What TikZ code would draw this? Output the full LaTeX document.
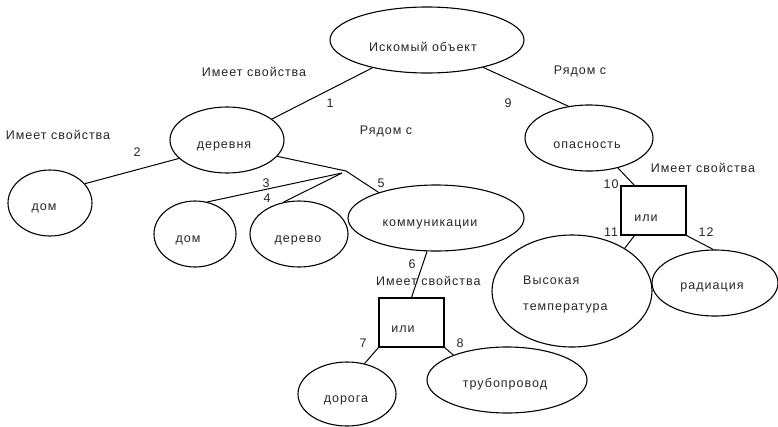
\documentclass[tikz,border=0pt]{standalone}
\usepackage{fontspec}
\setmainfont{Liberation Sans}[LetterSpace=8]
\usetikzlibrary{shapes.geometric,calc}
\begin{document}
\begin{tikzpicture}[x=1pt,y=-1pt,
  ell/.style={draw, ellipse, inner sep=0pt, line width=1.1pt},
  boxn/.style={draw, rectangle, inner sep=0pt, line width=1.1pt},
  txt/.style={font=\fontsize{12.5}{14}\selectfont, text=black!85, inner sep=0pt},
  con/.style={line width=1pt}]
\useasboundingbox[fill=white] (0,0) rectangle (778,426);

% shapes
\node[ell, minimum width=194pt, minimum height=66pt] (I) at (427,40) {};
\node[ell, minimum width=114pt, minimum height=66pt] (D) at (227,140) {};
\node[ell, minimum width=84pt, minimum height=66pt] (H1) at (50,203) {};
\node[ell, minimum width=82pt, minimum height=66pt] (H2) at (195,234) {};
\node[ell, minimum width=98pt, minimum height=66pt] (T) at (299,234) {};
\node[ell, minimum width=176pt, minimum height=66pt] (K) at (436,218) {};
\node[ell, minimum width=128pt, minimum height=66pt] (O) at (589,138) {};
\node[ell, minimum width=160pt, minimum height=112pt] (V) at (572,291) {};
\node[ell, minimum width=126pt, minimum height=66pt] (R) at (715,283) {};
\node[ell, minimum width=160pt, minimum height=66pt] (P) at (507,380) {};
\node[ell, minimum width=98pt, minimum height=64pt] (G) at (347,394) {};
\node[boxn, minimum width=65pt, minimum height=49pt] (B1) at (411.5,322.5) {};
\node[boxn, minimum width=65pt, minimum height=49pt] (B2) at (653.5,210.5) {};
\coordinate (J) at (346,171);
\coordinate (J2) at (342,173);

% texts in shapes
\node[txt] (tI) at (423,47) {Искомый объект};
\node[txt] (tD) at (224,146) {деревня};
\node[txt] (tH1) at (44,208) {дом};
\node[txt] (tH2) at (188,240) {дом};
\node[txt] (tT) at (298,240) {дерево};
\node[txt] (tK) at (430,224) {коммуникации};
\node[txt] (tO) at (587,145) {опасность};
\node[txt, anchor=west] (tV1) at (523,280) {Высокая};
\node[txt, anchor=west] (tV2) at (523,308) {температура};
\node[txt] (tR) at (712,287) {радиация};
\node[txt] (tP) at (505,384) {трубопровод};
\node[txt] (tG) at (346,400) {дорога};
\node[txt] (tB1) at (403,329) {или};
\node[txt] (tB2) at (646,218) {или};

% relation labels
\node[txt] (r1) at (254,72) {Имеет свойства};
\node[txt] (r2) at (58,135) {Имеет свойства};
\node[txt] (r3) at (386,131) {Рядом с};
\node[txt] (r4) at (580,71) {Рядом с};
\node[txt] (r5) at (703,168) {Имеет свойства};
\node[txt, anchor=west] (r6) at (376,281) {Имеет свойства};

% numbers
\node[txt] (n1) at (330,103) {1};
\node[txt] (n2) at (137,152) {2};
\node[txt] (n3) at (266,183) {3};
\node[txt] (n4) at (267,198) {4};
\node[txt] (n5) at (381,183) {5};
\node[txt] (n6) at (412,264) {6};
\node[txt] (n7) at (363,343) {7};
\node[txt] (n8) at (460,343) {8};
\node[txt] (n9) at (508,103) {9};
\node[txt] (n10) at (611,184) {10};
\node[txt] (n11) at (611,232) {11};
\node[txt] (n12) at (706,232) {12};

% connectors
\draw[con] (I.207) -- (D.25.6);
\draw[con] (D.201) -- (H1.29.7);
\draw[con] (D.342) -- (J) -- (K.156);
\draw[con] (J2) -- (H2.69);
\draw[con] (J2) -- (T.116);
\draw[con] (K.255) -- (B1.north);
\draw[con] (B1.south west) -- (G.60);
\draw[con] (B1.south east) -- (P.155);
\draw[con] (I.334) -- (O.123);
\draw[con] (O.314) -- ([xshift=14pt]B2.north west);
\draw[con] ([xshift=14pt]B2.south west) -- (V.39.7);
\draw[con] (B2.south east) -- (R.93);
\end{tikzpicture}
\end{document}
